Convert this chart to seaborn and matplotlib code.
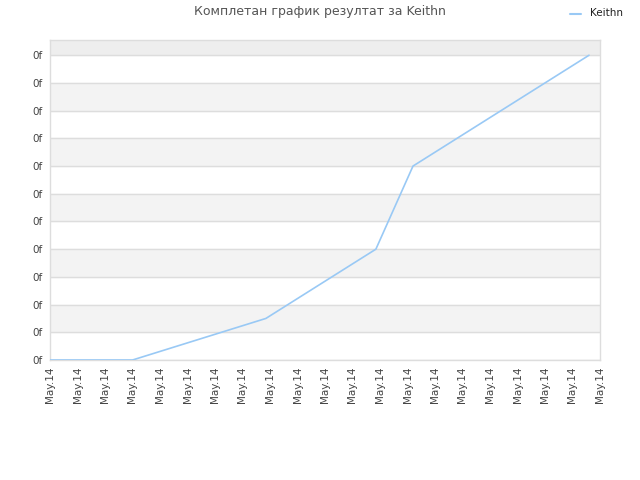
import pandas as pd
import seaborn as sns
import matplotlib.pyplot as plt

# data (x in tick steps, y in gridline steps)
x_pos = [0, 3.0, 7.85, 11.85, 13.2, 19.6]
scores = [0, 0, 1.5, 4, 7, 11]
x_ticks = list(range(21))
x_labels = ['May.14'] * 21
y_ticks = list(range(12))
y_labels = ['0f'] * 12

df = pd.DataFrame({'x': x_pos, 'score': scores, 'player': 'Keithn'})

sns.set_style('white')
plt.rcParams['font.family'] = ['DejaVu Sans']

fig = plt.figure(figsize=(6.4, 4.8), dpi=100)
ax = fig.add_axes([50 / 640, 120 / 480, 550 / 640, 320 / 480])

# alternating bands: grey between 1-2, 3-4, ...
for t in y_ticks[1:-1:2]:
    ax.axhspan(t, t + 1, color='#f3f3f3', zorder=0)
ax.axhspan(y_ticks[-1], 11.55, color='#eeeeee', zorder=0)
for t in y_ticks:
    ax.axhline(t, color='#dddddd', lw=1, zorder=1)

sns.lineplot(data=df, x='x', y='score', hue='player', palette=['#99c9f5'],
             lw=1.2, ax=ax, legend=False, zorder=3)

ax.set_xlim(0, 20)
ax.set_ylim(0, 11.55)
ax.set_xticks(x_ticks)
ax.set_xticklabels(x_labels, rotation=90, fontsize=7.5, color='#444444')
ax.set_yticks(y_ticks)
ax.set_yticklabels(y_labels, fontsize=7.5, color='#444444')
ax.tick_params(length=0, pad=5)
ax.set_xlabel('')
ax.set_ylabel('')
for s in ax.spines.values():
    s.set_color('#dddddd')
    s.set_linewidth(1)

fig.text(0.5, 1 - 12 / 480, 'Комплетан график резултат за Keithn', ha='center', va='center',
         fontsize=9, color='#555555')
fig.lines.append(plt.Line2D([570 / 640, 581 / 640], [1 - 14 / 480, 1 - 14 / 480],
                            color='#99c9f5', lw=1.5, transform=fig.transFigure))
fig.text(590 / 640, 1 - 13 / 480, 'Keithn', ha='left', va='center', fontsize=7.5,
         color='#222222')

plt.savefig('out.png')
plt.close()
